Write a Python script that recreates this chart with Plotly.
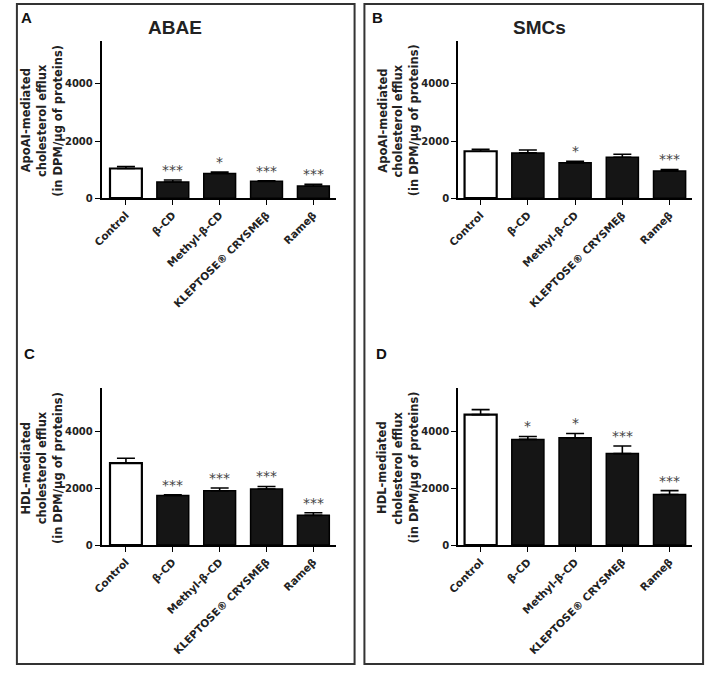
import plotly.graph_objects as go

categories = ["Control", "β-CD", "Methyl-β-CD", "KLEPTOSE® CRYSMEβ", "Rameβ"]
tick_vals = [0, 2000, 4000]
tick_text = ["0", "2000", "4000"]

# Panel A: ABAE, ApoAI-mediated
a_mean = [1040, 566, 867, 590, 428]
a_err = [70, 70, 46, 23, 58]
a_sig = ["", "***", "*", "***", "***"]
# Panel B: SMCs, ApoAI-mediated
b_mean = [1642, 1584, 1237, 1434, 948]
b_err = [69, 104, 58, 104, 58]
b_sig = ["", "", "*", "", "***"]
# Panel C: ABAE, HDL-mediated
c_mean = [2880, 1740, 1910, 1970, 1045]
c_err = [170, 30, 95, 90, 90]
c_sig = ["", "***", "***", "***", "***"]
# Panel D: SMCs, HDL-mediated
d_mean = [4580, 3710, 3768, 3212, 1774]
d_err = [174, 104, 151, 266, 139]
d_sig = ["", "*", "*", "***", "***"]

panel_letters = ["A", "B", "C", "D"]
col_titles = ["ABAE", "SMCs"]
ytitle_lines = [["ApoAI-mediated", "cholesterol efflux", "(in DPM/µg of proteins)"],
                ["HDL-mediated", "cholesterol efflux", "(in DPM/µg of proteins)"]]

W, H = 708, 675
def px(x):
    return x / W
def py(y):
    return 1 - y / H

fig = go.Figure()

panels = [
    (a_mean, a_err, a_sig, (92, 330), (200, 41.3), [-0.52, 4.48]),
    (b_mean, b_err, b_sig, (454, 692), (200, 41.3), [-0.48, 4.48]),
    (c_mean, c_err, c_sig, (92, 330), (550, 391.9), [-0.52, 4.48]),
    (d_mean, d_err, d_sig, (454, 692), (550, 391.9), [-0.48, 4.48]),
]

fill_colors = ["white", "#151515", "#151515", "#151515", "#151515"]
line_widths = [2.2, 1.5, 1.5, 1.5, 1.5]

annotations = []
shapes = []
font_fam = "Liberation Sans, Arial, sans-serif"
wide_fam = "DejaVu Sans, sans-serif"
for i, (mean, err, sig, (x0, x1), (yb, yt), xr) in enumerate(panels):
    n = "" if i == 0 else str(i + 1)
    xa = "x" + n
    ya = "y" + n
    fig.add_trace(go.Bar(
        x=list(range(len(categories))), y=mean,
        xaxis=xa, yaxis=ya,
        width=0.68,
        marker=dict(color=fill_colors, line=dict(color="black", width=line_widths)),
        error_y=dict(type="data", array=err, arrayminus=[0] * len(err), symmetric=False,
                     color="black", thickness=1.6, width=9),
        showlegend=False, hoverinfo="skip",
    ))
    fig.update_layout(**{
        ("xaxis" + n): dict(domain=[px(x0), px(x1)], range=xr, anchor=ya,
                             tickmode="array", tickvals=list(range(len(categories))),
                             ticktext=categories, tickangle=-45,
                             ticks="outside", ticklen=5, tickwidth=1.2, tickcolor="black",
                             showline=True, linecolor="black", linewidth=1.6,
                             showgrid=False, zeroline=False,
                             tickfont=dict(family=wide_fam, size=10.5, color="#222", weight="bold")),
        ("yaxis" + n): dict(domain=[py(yb), py(yt)], range=[0, 5500], anchor=xa,
                             tickmode="array", tickvals=tick_vals, ticktext=tick_text,
                             ticks="outside", ticklen=5, tickwidth=1.2, tickcolor="black",
                             showline=True, linecolor="black", linewidth=1.6,
                             showgrid=False, zeroline=False,
                             tickfont=dict(family=wide_fam, size=10, color="#222", weight="bold")),
    })
    for k, s in enumerate(sig):
        if s:
            annotations.append(dict(x=k, y=mean[k] + err[k], xref=xa, yref=ya, text=s,
                                    showarrow=False, yanchor="bottom", yshift=0,
                                    font=dict(family=wide_fam, size=14, color="#444")))
    # y-axis title, one annotation per line
    yc = (yb + yt) / 2 + 1
    for j, line in enumerate(ytitle_lines[i // 2]):
        annotations.append(dict(x=px(x0 - 77 + 16 * j), y=py(yc), xref="paper", yref="paper",
                                text=line, textangle=-90, showarrow=False,
                                xanchor="center", yanchor="middle",
                                font=dict(family=wide_fam, size=11.5, color="#222", weight="bold")))

# panel letters
for (lx, ly), t in zip([(16, 18), (372, 18), (19, 357), (376, 357)], panel_letters):
    annotations.append(dict(x=px(lx), y=py(ly), xref="paper", yref="paper", text=t,
                            showarrow=False, xanchor="center", yanchor="middle",
                            font=dict(family=font_fam, size=15, color="#111", weight="bold")))
# column titles
for (tx, ty), t in zip([(167, 28), (537, 28)], col_titles):
    annotations.append(dict(x=px(tx), y=py(ty), xref="paper", yref="paper", text=t,
                            showarrow=False, xanchor="center", yanchor="middle",
                            font=dict(family=font_fam, size=19, color="#222", weight="bold")))

# panel frames
for (bx0, bx1) in [(6, 349), (359, 703)]:
    shapes.append(dict(type="rect", xref="paper", yref="paper",
                       x0=px(bx0), x1=px(bx1), y0=py(670), y1=py(4),
                       line=dict(color="#333", width=2)))

fig.update_layout(width=W, height=H, margin=dict(l=0, r=0, t=0, b=0),
                  paper_bgcolor="white", plot_bgcolor="white",
                  annotations=annotations, shapes=shapes, bargap=0.3)

fig.write_html("out.html", config={"displayModeBar": False},
               post_script="document.body.style.margin='0px';document.body.style.overflow='hidden';")
